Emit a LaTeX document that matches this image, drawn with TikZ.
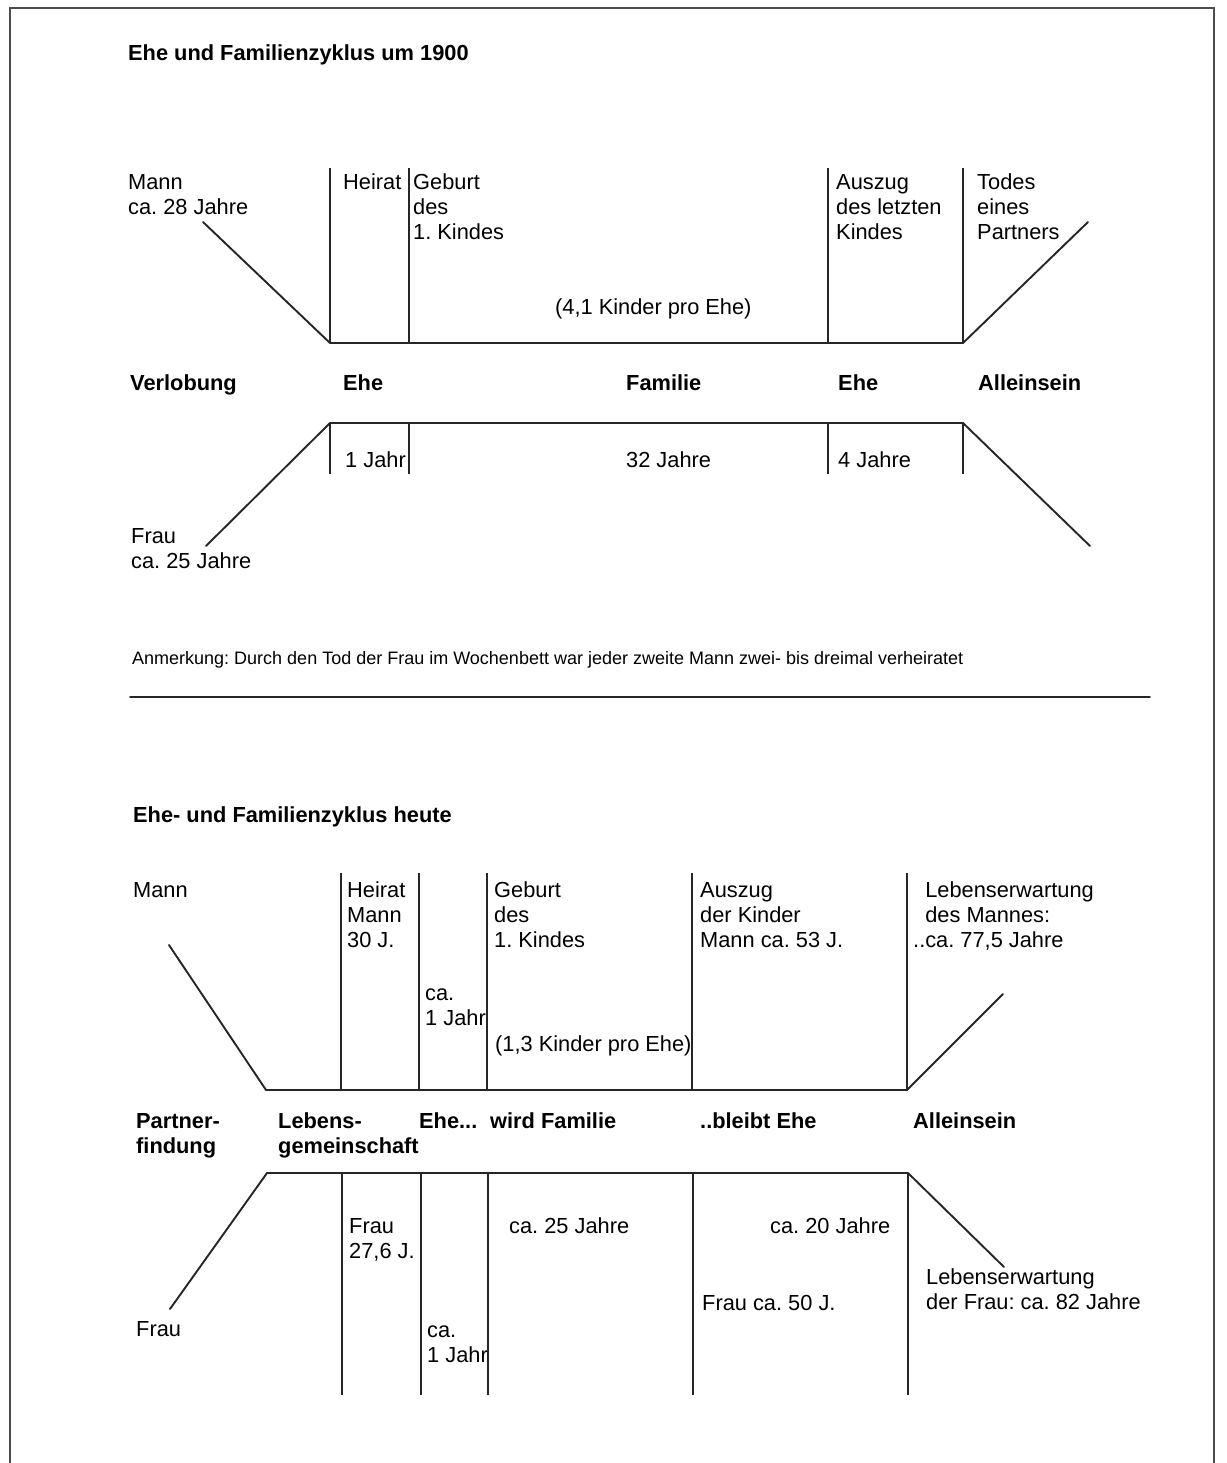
\documentclass[tikz,border=0pt]{standalone}
\usepackage{fontspec}
\setmainfont{Liberation Sans}
\frenchspacing
\begin{document}
\begin{tikzpicture}[x=1pt,y=-1pt,
  lbl/.style={anchor=north west, inner sep=0pt, align=left, font=\fontsize{21.8}{25}\selectfont, execute at begin node=\strut},
  blbl/.style={lbl, font=\fontsize{21.8}{25}\selectfont\bfseries},
  ln/.style={line width=1.9pt, line cap=round, line join=round, black!85},
  vl/.style={line width=1.6pt, black!85},
  frame/.style={line width=2.2pt, black!70}]
\useasboundingbox (0,0) rectangle (1226,1463);
% frame
\draw[frame] (10,1470) -- (10,8) -- (1214,8) -- (1214,1470);

% ===== top section =====
\node[blbl] (t1) at (128,42.5) {Ehe und Familienzyklus um 1900};
\node[lbl] (mann1) at (128,171.5) {\strut Mann\\ca. 28 Jahre};
\node[lbl] (heirat1) at (343,171.5) {Heirat};
\node[lbl] (geburt1) at (413,171.5) {\strut Geburt\\des\\1. Kindes};
\node[lbl] (auszug1) at (836,171.5) {\strut Auszug\\des letzten\\Kindes};
\node[lbl] (todes1) at (977,171.5) {\strut Todes\\eines\\Partners};
\node[lbl] (kinder1) at (555,296.5) {(4,1 Kinder pro Ehe)};
\node[blbl] (verl) at (130,372.5) {Verlobung};
\node[blbl] (ehe1a) at (343,372.5) {Ehe};
\node[blbl] (fam1) at (626,372.5) {Familie};
\node[blbl] (ehe1b) at (838,372.5) {Ehe};
\node[blbl] (allein1) at (978,372.5) {Alleinsein};
\node[lbl] (j1) at (345,449.5) {1 Jahr};
\node[lbl] (j32) at (626,449.5) {32 Jahre};
\node[lbl] (j4) at (838,449.5) {4 Jahre};
\node[lbl] (frau1) at (131,525.5) {\strut Frau\\ca. 25 Jahre};
\node[lbl, font=\fontsize{18}{22}\selectfont] (anm) at (132,649) {Anmerkung: Durch den Tod der Frau im Wochenbett war jeder zweite Mann zwei- bis dreimal verheiratet};

% upper lines
\foreach \x in {330,409,828,963} \draw[vl] (\x,168) -- (\x,343);
\draw[ln] (203,222) -- (330,343) -- (963,343) -- (1088,222);
% lower lines
\foreach \x in {330,409,828,963} \draw[vl] (\x,423) -- (\x,474);
\draw[ln] (206,546) -- (330,423) -- (963,423) -- (1090,546);
% separator
\draw[ln, line width=1.6pt] (130,697) -- (1150,697);

% ===== bottom section =====
\node[blbl] (t2) at (133,804.5) {Ehe- und Familienzyklus heute};
\node[lbl] (mann2) at (133,879.5) {Mann};
\node[lbl] (heirat2) at (347,879.5) {\strut Heirat\\Mann\\30 J.};
\node[lbl] (ca1a) at (425,982.5) {\strut ca.\\1 Jahr};
\node[lbl] (geburt2) at (494,879.5) {\strut Geburt\\des\\1. Kindes};
\node[lbl] (kinder2) at (495,1033.5) {(1,3 Kinder pro Ehe)};
\node[lbl] (auszug2) at (700,879.5) {\strut Auszug\\der Kinder\\Mann ca. 53 J.};
\node[lbl] (leb1) at (913,879.5) {\strut\phantom{..}Lebenserwartung\\\phantom{..}des Mannes:\\..ca. 77,5 Jahre};
\node[blbl] (partner) at (136,1110.5) {\strut Partner-\\findung};
\node[blbl] (lebens) at (278,1110.5) {\strut Lebens-\\gemeinschaft};
\node[blbl] (ehe2) at (419,1110.5) {Ehe...};
\node[blbl] (wird) at (490,1110.5) {wird Familie};
\node[blbl] (bleibt) at (700,1110.5) {..bleibt Ehe};
\node[blbl] (allein2) at (913,1110.5) {Alleinsein};
\node[lbl] (frau2a) at (349,1215.5) {\strut Frau\\27,6 J.};
\node[lbl] (ca25) at (509,1215.5) {ca. 25 Jahre};
\node[lbl] (ca20) at (770,1215.5) {ca. 20 Jahre};
\node[lbl] (lebf) at (926,1266.5) {\strut Lebenserwartung\\der Frau: ca. 82 Jahre};
\node[lbl] (frau50) at (702,1292.5) {Frau ca. 50 J.};
\node[lbl] (frau2) at (136,1318.5) {Frau};
\node[lbl] (ca1b) at (427,1319.5) {\strut ca.\\1 Jahr};

% upper lines
\foreach \x in {341,419,487,692,907} \draw[vl] (\x,873) -- (\x,1090);
\draw[ln] (169,945) -- (266,1090) -- (907,1090) -- (1003,994);
% lower lines
\foreach \x in {342,421,488,693,908} \draw[vl] (\x,1173) -- (\x,1395);
\draw[ln] (170,1309) -- (267,1173) -- (908,1173) -- (1004,1267);
\end{tikzpicture}
\end{document}
